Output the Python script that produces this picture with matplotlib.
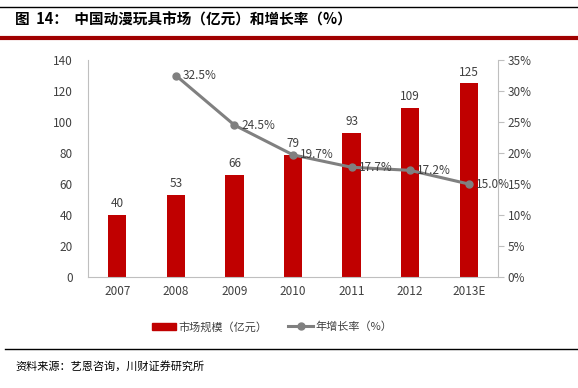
import matplotlib
matplotlib.use('Agg')
import matplotlib.pyplot as plt
from matplotlib.lines import Line2D
from matplotlib.patches import Patch

plt.rcParams['font.family'] = ['Noto Sans CJK SC', 'DejaVu Sans']

years = ['2007', '2008', '2009', '2010', '2011', '2012', '2013E']
market = [40, 53, 66, 79, 93, 109, 125]
growth_years = ['2008', '2009', '2010', '2011', '2012', '2013E']
growth = [32.5, 24.5, 19.7, 17.7, 17.2, 15.0]

bar_color = '#C00000'
line_color = '#808080'
text_color = '#404040'

fig = plt.figure(figsize=(5.78, 3.88), dpi=100)

# header and footer decoration
fig.add_artist(Line2D([0.0, 1.0], [1 - 7 / 388, 1 - 7 / 388], color='black', lw=1.0))
fig.add_artist(Line2D([0.0, 1.0], [1 - 38 / 388, 1 - 38 / 388], color='#A00000', lw=3.0))
fig.add_artist(Line2D([5 / 578, 1.0], [1 - 349 / 388, 1 - 349 / 388], color='black', lw=1.0))
fig.text(15 / 578, 1 - 20 / 388, '图  14：  中国动漫玩具市场（亿元）和增长率（%）',
         fontsize=10.5, fontweight='bold', va='center', ha='left', color='black')
fig.text(15 / 578, 1 - 366 / 388, '资料来源：艺恩咨询，川财证券研究所',
         fontsize=8, style='italic', va='center', ha='left', color='black')

ax = fig.add_axes([88 / 578, 1 - 277 / 388, 410 / 578, 217 / 388])
x = list(range(len(years)))
ax.bar(x, market, width=0.31, color=bar_color, zorder=2)
for xi, v in zip(x, market):
    ax.text(xi, v + 3, str(v), ha='center', va='bottom', fontsize=8.5, color=text_color)

ax.set_xlim(-0.5, len(years) - 0.5)
ax.set_ylim(0, 140)
ax.set_yticks(range(0, 141, 20))
ax.set_xticks(x)
ax.set_xticklabels(years)
ax.tick_params(axis='both', labelsize=8.5, colors=text_color, length=0, pad=6)
ax.tick_params(axis='y', pad=11)
for s in ['top', 'right']:
    ax.spines[s].set_visible(False)
ax.spines['left'].set_color('#BFBFBF')
ax.spines['bottom'].set_color('#BFBFBF')

ax2 = ax.twinx()
gx = [years.index(y) for y in growth_years]
ax2.plot(gx, growth, color=line_color, lw=2.2, marker='o', markersize=5, zorder=3)
for xi, v in zip(gx, growth):
    ax2.text(xi + 0.12, v, '%.1f%%' % v, ha='left', va='center', fontsize=8.5, color=text_color)
ax2.set_ylim(0, 35)
ax2.set_yticks(range(0, 36, 5))
ax2.set_yticklabels(['%d%%' % t for t in range(0, 36, 5)])
ax2.tick_params(axis='y', labelsize=8.5, colors=text_color, length=4, direction='out', pad=3)
ax2.tick_params(axis='y', color='#BFBFBF')
for s in ['top', 'left', 'bottom']:
    ax2.spines[s].set_visible(False)
ax2.spines['right'].set_color('#BFBFBF')

handles = [Patch(facecolor=bar_color, edgecolor=bar_color),
           Line2D([], [], color=line_color, lw=2.2, marker='o', markersize=5)]
fig.legend(handles, ['市场规模（亿元）', '年增长率（%）'], loc='center',
           bbox_to_anchor=(0.47, 1 - 327 / 388), ncol=2, frameon=False,
           fontsize=8, handlelength=2.2, handleheight=0.7, columnspacing=1.9,
           handletextpad=0.2, labelcolor=text_color)

fig.savefig('out.png', dpi=100)
